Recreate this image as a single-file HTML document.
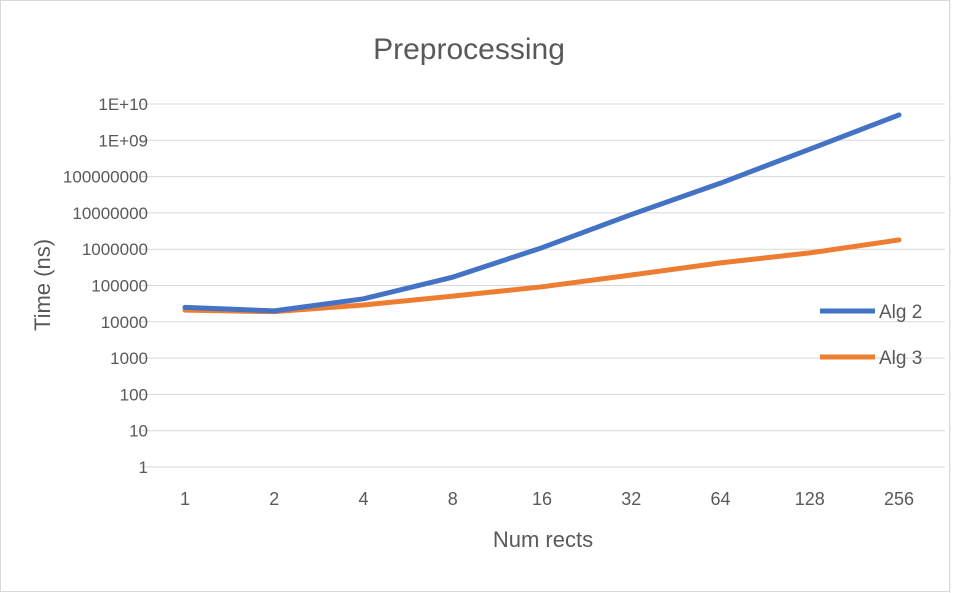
<!DOCTYPE html>
<html><head><meta charset="utf-8"><style>
html,body{margin:0;padding:0;background:#fff;}
svg{display:block;font-family:"Liberation Sans",sans-serif;}
</style></head><body>
<svg id="chart" width="959" height="593" viewBox="0 0 959 593">
<rect x="0.5" y="0.5" width="949" height="591" fill="#fff" stroke="#d9d9d9"/>
<line x1="950" y1="0" x2="950" y2="593" stroke="#e0e0e0"/>
<text x="469" y="59" text-anchor="middle" font-size="30" fill="#595959">Preprocessing</text>
<g id="grid"></g><g id="yticks"></g><g id="xticks"></g><g id="series"></g>
<text transform="translate(50,285) rotate(-90)" text-anchor="middle" font-size="22" fill="#595959">Time (ns)</text>
<text x="543" y="547" text-anchor="middle" font-size="22" fill="#595959">Num rects</text>
<g>
<line x1="820" y1="311" x2="875" y2="311" stroke="#4472c4" stroke-width="5"/>
<text x="879" y="318" font-size="19" fill="#595959">Alg 2</text>
<line x1="820" y1="357" x2="875" y2="357" stroke="#ed7d31" stroke-width="5"/>
<text x="879" y="364" font-size="19" fill="#595959">Alg 3</text>
</g>
</svg>
<script>
const categories=["1","2","4","8","16","32","64","128","256"];
const alg2=[25000,20000,43000,170000,1100000,9000000,66000000,570000000,5000000000];
const alg3=[21000,19000,29000,51000,92000,195000,420000,790000,1800000];
const yTickLabels=["1","10","100","1000","10000","100000","1000000","10000000","100000000","1E+09","1E+10"];
const NS="http://www.w3.org/2000/svg";
const plotL=140,plotR=945,yBottom=467,decade=36.3;
function xs(i){return 185+i*(899-185)/(categories.length-1);}
function ys(v){return yBottom-Math.log10(v)*decade;}
function mk(t,a,p){const e=document.createElementNS(NS,t);for(const k in a)e.setAttribute(k,a[k]);p.appendChild(e);return e;}
const grid=document.getElementById('grid'),yt=document.getElementById('yticks'),xt=document.getElementById('xticks'),ser=document.getElementById('series');
yTickLabels.forEach((lab,i)=>{
 const y=ys(Math.pow(10,i));
 const l=mk('line',{x1:plotL,x2:plotR,y1:y,y2:y,stroke:'#d9d9d9','stroke-width':1},grid);
 
 
 const t=mk('text',{x:148,y:y+6,'text-anchor':'end','font-size':17,fill:'#595959'},yt);
 t.textContent=lab;
 
 
});
categories.forEach((c,i)=>{
 const t=mk('text',{x:xs(i),y:505,'text-anchor':'middle','font-size':18,fill:'#595959'},xt);
 t.textContent=c;
 
 
});
function line(vals,color,name){
 const p=mk('polyline',{points:vals.map((v,i)=>xs(i)+','+ys(v)).join(' '),fill:'none',stroke:color,'stroke-width':5,'stroke-linejoin':'round','stroke-linecap':'round'},ser);
 
 
}
line(alg3,'#ed7d31','series-alg3');
line(alg2,'#4472c4','series-alg2');
</script>
</body></html>
